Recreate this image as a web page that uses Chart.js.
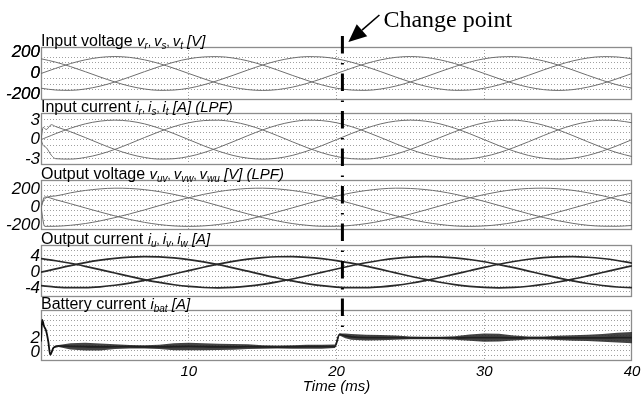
<!DOCTYPE html>
<html>
<head>
<meta charset="utf-8">
<script src="https://cdn.jsdelivr.net/npm/chart.js@4.4.1/dist/chart.umd.min.js"></script>
<style>
  html, body { margin: 0; padding: 0; background: #fff; }
  #wrap { position: relative; width: 642px; height: 398px; overflow: hidden; }
  #wrap canvas { position: absolute; left: 0; }
  #overlay { top: 0; pointer-events: none; }
</style>
</head>
<body>
<div id="wrap">
  <canvas id="c1" width="642" height="74" style="top:27px"></canvas>
  <canvas id="c2" width="642" height="73" style="top:93px"></canvas>
  <canvas id="c3" width="642" height="71" style="top:160px"></canvas>
  <canvas id="c4" width="642" height="73" style="top:225px"></canvas>
  <canvas id="c5" width="642" height="108" style="top:290px"></canvas>
  <canvas id="overlay" width="642" height="398"></canvas>
</div>
<script>
// ---- values (time in ms)
const timeMs = [0,1,2,3,4,5,6,7,8,9,10,11,12,13,14,15,16,17,18,19,20,21,22,23,24,25,26,27,28,29,30,31,32,33,34,35,36,37,38,39,40];

// input voltage [V]
const inVoltR = [0,49,94,129,152,160,152,129,94,49,0,-49,-94,-129,-152,-160,-152,-129,-94,-49,0,49,94,129,152,160,152,129,94,49,0,-49,-94,-129,-152,-160,-152,-129,-94,-49,0];
const inVoltS = [139,107,65,17,-33,-80,-119,-146,-159,-156,-139,-107,-65,-17,33,80,119,146,159,156,139,107,65,17,-33,-80,-119,-146,-159,-156,-139,-107,-65,-17,33,80,119,146,159,156,139];
const inVoltT = [-139,-156,-159,-146,-119,-80,-33,17,65,107,139,156,159,146,119,80,33,-17,-65,-107,-139,-156,-159,-146,-119,-80,-33,17,65,107,139,156,159,146,119,80,33,-17,-65,-107,-139];

// input current [A] (LPF), start transient in the first ms
const inCurTimeMs = [0,0.15,0.35,0.7,1,2,3,4,5,6,7,8,9,10,11,12,13,14,15,16,17,18,19,20,21,22,23,24,25,26,27,28,29,30,31,32,33,34,35,36,37,38,39,40];
const inCurR = [0,0.14,0.33,0.65,0.93,1.76,2.43,2.85,3.0,2.85,2.43,1.76,0.93,0,-0.93,-1.76,-2.43,-2.85,-3.0,-2.85,-2.43,-1.76,-0.93,0,0.93,1.76,2.43,2.85,3.0,2.85,2.43,1.76,0.93,0,-0.93,-1.76,-2.43,-2.85,-3.0,-2.85,-2.43,-1.76,-0.93,0];
const inCurS = [0,1.9,1.55,2.3,2.01,1.22,0.32,-0.62,-1.5,-2.23,-2.74,-2.99,-2.93,-2.6,-2.01,-1.22,-0.32,0.62,1.5,2.23,2.74,2.99,2.93,2.6,2.01,1.22,0.32,-0.62,-1.5,-2.23,-2.74,-2.99,-2.93,-2.6,-2.01,-1.22,-0.32,0.62,1.5,2.23,2.74,2.99,2.93,2.6];
const inCurT = [0,-0.9,-1.2,-2.4,-2.93,-2.99,-2.74,-2.23,-1.5,-0.62,0.32,1.22,2.01,2.6,2.93,2.99,2.74,2.23,1.5,0.62,-0.32,-1.22,-2.01,-2.6,-2.93,-2.99,-2.74,-2.23,-1.5,-0.62,0.32,1.22,2.01,2.6,2.93,2.99,2.74,2.23,1.5,0.62,-0.32,-1.22,-2.01,-2.6];

// output voltage [V] (LPF)
const outVoltTimeMs = [0,0.25,1,2,3,4,5,6,7,8,9,10,11,12,13,14,15,16,17,18,19,20,21,22,23,24,25,26,27,28,29,30,31,32,33,34,35,36,37,38,39,40];
const outVoltUV = [0,96,125,159,185,202,210,207,194,172,142,105,63,18,-29,-73,-114,-150,-179,-198,-209,-209,-199,-180,-152,-116,-75,-31,15,61,103,140,171,194,207,210,203,186,160,127,87,44];
const outVoltVW = [0,114,83,39,-7,-52,-95,-134,-166,-190,-205,-210,-205,-190,-166,-134,-95,-52,-7,39,83,123,158,184,202,210,207,195,174,144,107,65,20,-26,-71,-113,-148,-177,-198,-208,-209,-200];
const outVoltWU = [0,-210,-209,-198,-179,-150,-114,-73,-29,18,63,105,142,172,194,207,210,202,185,159,125,85,42,-4,-50,-93,-132,-165,-189,-205,-210,-205,-191,-167,-135,-97,-54,-9,37,81,122,156];

// output current [A]
const outCurU = [0,0.85,1.66,2.39,3.0,3.47,3.78,3.9,3.83,3.58,3.16,2.58,1.88,1.09,0.25,-0.61,-1.44,-2.19,-2.84,-3.36,-3.71,-3.88,-3.87,-3.67,-3.29,-2.76,-2.09,-1.32,-0.49,0.37,1.21,1.99,2.67,3.23,3.63,3.85,3.89,3.74,3.42,2.93,2.29];
const outCurV = [3.38,2.87,2.23,1.47,0.65,-0.2,-1.05,-1.84,-2.55,-3.13,-3.56,-3.82,-3.9,-3.79,-3.49,-3.03,-2.42,-1.7,-0.89,-0.04,0.81,1.62,2.36,2.98,3.46,3.77,3.9,3.84,3.6,3.18,2.61,1.91,1.13,0.28,-0.57,-1.4,-2.16,-2.82,-3.33,-3.7,-3.88];
const outCurW = [-3.38,-3.72,-3.88,-3.86,-3.65,-3.27,-2.73,-2.06,-1.28,-0.45,0.41,1.24,2.02,2.7,3.25,3.64,3.86,3.89,3.73,3.4,2.9,2.26,1.51,0.69,-0.16,-1.01,-1.81,-2.52,-3.11,-3.55,-3.81,-3.9,-3.8,-3.51,-3.06,-2.45,-1.74,-0.93,-0.08,0.77,1.59];

// battery current [A]: mean value and half width of the ripple band
const batTimeMs = [0,0.08,0.2,0.35,0.5,0.62,0.85,1.2,2,3,4,5,6,7,8,9,10,11,12,13,14,15,16,17,18,19,19.9,20.2,20.6,21,22,23,24,25,26,27,28,29,30,31,32,33,34,35,36,37,38,39,40];
const batMean = [1.5,4.6,3.7,3.0,1.4,-0.4,0.6,0.85,0.8,0.75,0.72,0.75,0.75,0.72,0.72,0.75,0.78,0.75,0.72,0.72,0.75,0.72,0.7,0.72,0.75,0.75,0.8,2.5,2.3,2.15,2.05,2.05,2.05,2.0,2.0,2.0,2.0,2.05,2.05,2.05,2.0,2.0,2.0,2.0,2.0,2.0,2.0,2.05,2.05];
const batRipple = [0,0,0,0,0,0,0,0.15,0.45,0.55,0.5,0.35,0.25,0.22,0.3,0.5,0.55,0.5,0.45,0.4,0.35,0.25,0.22,0.25,0.28,0.28,0.25,0.15,0.35,0.4,0.4,0.38,0.3,0.2,0.18,0.18,0.25,0.45,0.6,0.55,0.35,0.22,0.22,0.3,0.4,0.45,0.55,0.7,0.8];

// tick labels of each panel
const p1Ticks = [-200, 0, 200];
const p2Ticks = [-3, 0, 3];
const p3Ticks = [-200, 0, 200];
const p4Ticks = [-4, 0, 4];
const p5Ticks = [0, 2];

const changeTime = 20.4;
const changeLabel = 'Change point';
const xTitle = 'Time (ms)';

// panel titles: [text, n = normal, i = italic, s = subscript, c = separator]
const p1Title = [['Input voltage ', 'n'], ['v', 'i'], ['r', 's'], [', ', 'c'], ['v', 'i'], ['s', 's'], [', ', 'c'], ['v', 'i'], ['t', 's'], [' [V]', 'i']];
const p2Title = [['Input current ', 'n'], ['i', 'i'], ['r', 's'], [', ', 'c'], ['i', 'i'], ['s', 's'], [', ', 'c'], ['i', 'i'], ['t', 's'], [' [A] (LPF)', 'i']];
const p3Title = [['Output voltage ', 'n'], ['v', 'i'], ['uv', 's'], [', ', 'c'], ['v', 'i'], ['vw', 's'], [', ', 'c'], ['v', 'i'], ['wu', 's'], [' [V] (LPF)', 'i']];
const p4Title = [['Output current ', 'n'], ['i', 'i'], ['u', 's'], [', ', 'c'], ['i', 'i'], ['v', 's'], [', ', 'c'], ['i', 'i'], ['w', 's'], [' [A]', 'i']];
const p5Title = [['Battery current ', 'n'], ['i', 'i'], ['bat', 's'], [' [A]', 'i']];

// ---- drawing
const sans = '"Liberation Sans", Arial, sans-serif';
const gridColor = '#a0a0a0';
const titleFonts = { n: '16px ', i: 'italic 15px ', s: 'italic 10px ', c: '11px ' };

// frame around each panel and the title above it
const panelDecor = {
  id: 'panelDecor',
  beforeDatasetsDraw(chart) {
    const { ctx, chartArea: a } = chart;
    ctx.save();
    ctx.strokeStyle = '#8c8c8c';
    ctx.lineWidth = 1.3;
    ctx.strokeRect(a.left + 0.5, a.top + 0.5, a.right - a.left - 1, a.bottom - a.top - 1);
    ctx.restore();
  },
  afterDraw(chart, args, opts) {
    const { ctx, chartArea: a } = chart;
    const base = a.top - 1;
    let x = a.left;
    ctx.save();
    ctx.fillStyle = '#000';
    ctx.textBaseline = 'alphabetic';
    opts.title.forEach(([txt, kind]) => {
      ctx.font = titleFonts[kind] + sans;
      ctx.fillText(txt, x, kind === 's' ? base + 3 : base);
      x += ctx.measureText(txt).width;
    });
    ctx.restore();
  }
};

function yAxis(min, max, labels, divisions) {
  return {
    type: 'linear', min: min, max: max,
    afterFit: s => { s.width = 41; s.paddingTop = 0; s.paddingBottom = 0; },
    afterBuildTicks: s => {
      const vals = [];
      for (let k = 1; k < divisions; k++) vals.push(min + (max - min) * k / divisions);
      s.ticks = vals.concat(labels).sort((a, b) => a - b).map(v => ({ value: v }));
    },
    ticks: {
      padding: 1, autoSkip: false, color: '#000',
      font: { family: sans, size: 17, style: 'italic', weight: 'normal' },
      callback: v => labels.includes(v) ? String(v) : ''
    },
    grid: { drawTicks: false, lineWidth: 1, color: c => labels.includes(c.tick.value) ? 'rgba(0,0,0,0)' : gridColor },
    border: { display: false, dash: [1, 2] }
  };
}

function xAxis(showLabels) {
  return {
    type: 'linear', min: 0, max: 40,
    afterFit: s => { s.height = showLabels ? 37 : 0; s.paddingLeft = 0; s.paddingRight = 0; },
    ticks: {
      display: showLabels, stepSize: 10, padding: 2, autoSkip: false, maxRotation: 0, color: '#000',
      font: { family: sans, size: 15, style: 'italic' },
      callback: v => v === 0 ? '' : String(v)
    },
    grid: { drawTicks: false, lineWidth: 1, color: c => (c.tick.value > 0 && c.tick.value < 40) ? gridColor : 'rgba(0,0,0,0)' },
    border: { display: false, dash: [1, 2] },
    title: {
      display: showLabels, text: xTitle, color: '#000',
      font: { family: sans, size: 15, style: 'italic' },
      padding: { top: 0, bottom: 2 }
    }
  };
}

function line(time, values, color, width) {
  return {
    data: time.map((t, i) => ({ x: t, y: values[i] })),
    borderColor: color, borderWidth: width, pointRadius: 0,
    cubicInterpolationMode: 'monotone', fill: false
  };
}

function makePanel(id, datasets, yOpts, title, showX) {
  return new Chart(document.getElementById(id), {
    type: 'line',
    data: { datasets: datasets },
    options: {
      animation: false, responsive: false, devicePixelRatio: 1,
      layout: { padding: { top: 20, right: 10, bottom: showX ? 0 : 1, left: 0 } },
      plugins: { legend: { display: false }, tooltip: { enabled: false }, panelDecor: { title: title } },
      scales: { x: xAxis(showX), y: yOpts }
    },
    plugins: [panelDecor]
  });
}

const thin = '#6e6e6e';
const charts = [
  makePanel('c1', [line(timeMs, inVoltR, thin, 1), line(timeMs, inVoltS, thin, 1), line(timeMs, inVoltT, thin, 1)],
    yAxis(-250, 250, p1Ticks, 10), p1Title, false),
  makePanel('c2', [line(inCurTimeMs, inCurR, thin, 1), line(inCurTimeMs, inCurS, thin, 1), line(inCurTimeMs, inCurT, thin, 1)],
    yAxis(-3.9, 4.1, p2Ticks, 8), p2Title, false),
  makePanel('c3', [line(outVoltTimeMs, outVoltUV, thin, 1), line(outVoltTimeMs, outVoltVW, thin, 1), line(outVoltTimeMs, outVoltWU, thin, 1)],
    yAxis(-250, 300, p3Ticks, 10), p3Title, false),
  makePanel('c4', [line(timeMs, outCurU, '#2a2a2a', 1.7), line(timeMs, outCurV, '#2a2a2a', 1.7), line(timeMs, outCurW, '#2a2a2a', 1.7)],
    yAxis(-6.2, 6.8, p4Ticks, 10), p4Title, false),
  makePanel('c5', [
      { data: batTimeMs.map((t, i) => ({ x: t, y: batMean[i] + batRipple[i] })), borderWidth: 0, pointRadius: 0, fill: false },
      { data: batTimeMs.map((t, i) => ({ x: t, y: batMean[i] - batRipple[i] })), borderWidth: 0, pointRadius: 0, fill: '-1', backgroundColor: 'rgba(35,35,35,0.85)' },
      line(batTimeMs, batMean, '#111', 1.8)
    ],
    yAxis(-1.3, 6, p5Ticks, 10), p5Title, true)
];

// ---- change point marker across all panels
const ov = document.getElementById('overlay').getContext('2d');
const xc = charts[0].scales.x.getPixelForValue(changeTime);
ov.strokeStyle = '#000';
ov.lineWidth = 3;
ov.setLineDash([17.5, 9.5, 1.5, 9]);
ov.beginPath();
ov.moveTo(xc, 36);
ov.lineTo(xc, 330);
ov.stroke();
ov.setLineDash([]);

// arrow pointing at the marker
const tail = [xc + 37, 15], tip = [xc + 6, 42];
const dx = tip[0] - tail[0], dy = tip[1] - tail[1];
const len = Math.hypot(dx, dy), ux = dx / len, uy = dy / len;
const bx = tip[0] - 18 * ux, by = tip[1] - 18 * uy;
ov.lineWidth = 1.6;
ov.beginPath();
ov.moveTo(tail[0], tail[1]);
ov.lineTo(bx, by);
ov.stroke();
ov.fillStyle = '#000';
ov.beginPath();
ov.moveTo(tip[0], tip[1]);
ov.lineTo(bx - 8 * uy, by + 8 * ux);
ov.lineTo(bx + 8 * uy, by - 8 * ux);
ov.closePath();
ov.fill();

ov.font = '24px "Liberation Serif", "Times New Roman", serif';
ov.textBaseline = 'alphabetic';
ov.fillText(changeLabel, xc + 41, 27);
</script>
</body>
</html>
